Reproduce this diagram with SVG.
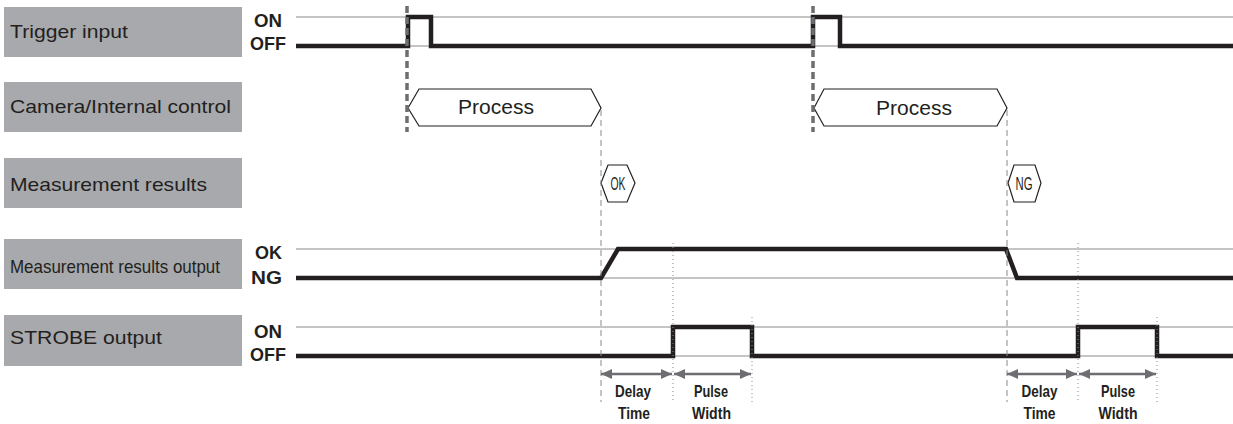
<svg xmlns="http://www.w3.org/2000/svg" width="1233" height="424" viewBox="0 0 1233 424">
<style>
.box{fill:#a7a9ac}
.lbl{font-family:"Liberation Sans",Arial,sans-serif;font-size:19px;fill:#231f20}
.lvl{font-family:"Liberation Sans",Arial,sans-serif;font-size:17.5px;font-weight:bold;fill:#231f20;text-anchor:middle}
.ref{stroke:#8a8a8a;stroke-width:1;fill:none}
.sig{stroke:#231f20;stroke-width:4.5;fill:none;stroke-linejoin:miter;stroke-linecap:butt}
.hex{fill:#fff;stroke:#231f20;stroke-width:1.2}
.proc{font-family:"Liberation Sans",Arial,sans-serif;font-size:20px;fill:#231f20;text-anchor:middle}
.res{font-family:"Liberation Sans",Arial,sans-serif;font-size:18px;fill:#231f20;text-anchor:middle}
.trig{stroke:#6d6e71;stroke-width:3.5;stroke-dasharray:7 4;fill:none}
.dash{stroke:#8a8a8a;stroke-width:1;stroke-dasharray:6 4;fill:none}
.dot{stroke:#8a8a8a;stroke-width:1;stroke-dasharray:1 3;fill:none}
.arr{stroke:#6d6e71;stroke-width:2.5;fill:none;marker-start:url(#ah);marker-end:url(#ah)}
.dim{font-family:"Liberation Sans",Arial,sans-serif;font-size:17px;font-weight:bold;fill:#231f20;text-anchor:middle}
</style>
<defs>
<marker id="ah" markerUnits="userSpaceOnUse" markerWidth="11" markerHeight="10" refX="11" refY="5" orient="auto-start-reverse">
<path d="M0,0 L11,5 L0,10 z" fill="#6d6e71"/>
</marker>
</defs>
<rect width="1233" height="424" fill="#fff"/>

<g id="trigger-input">
<rect class="box" x="4" y="7" width="238" height="50"/>
<text class="lbl" x="10" y="38" textLength="118" lengthAdjust="spacingAndGlyphs">Trigger input</text>
<text class="lvl" x="268" y="27" textLength="28" lengthAdjust="spacingAndGlyphs">ON</text>
<text class="lvl" x="268" y="50" textLength="36" lengthAdjust="spacingAndGlyphs">OFF</text>
<path class="ref" d="M296 17 H1233 M296 46 H1233"/>
<path class="sig" d="M296 46 H408 V17 H431 V46 H813 V17 H840 V46 H1233"/>
</g>

<g id="camera-internal-control">
<rect class="box" x="4" y="82" width="238" height="50"/>
<text class="lbl" x="10" y="113" textLength="221" lengthAdjust="spacingAndGlyphs">Camera/Internal control</text>
<polygon class="hex" points="408,108 419,89 591,89 601,108 591,126 419,126"/>
<text class="proc" x="496" y="114" textLength="76" lengthAdjust="spacingAndGlyphs">Process</text>
<polygon class="hex" points="814,108 824,89 997,89 1007,108 997,126 824,126"/>
<text class="proc" x="914" y="115" textLength="76" lengthAdjust="spacingAndGlyphs">Process</text>
</g>

<g id="measurement-results">
<rect class="box" x="4" y="158" width="238" height="50"/>
<text class="lbl" x="10" y="191" textLength="197" lengthAdjust="spacingAndGlyphs">Measurement results</text>
<polygon class="hex" points="601,183 608,165 627,165 635,183 627,202 608,202"/>
<text class="res" x="618" y="190" textLength="15" lengthAdjust="spacingAndGlyphs">OK</text>
<polygon class="hex" points="1008,183 1014,165 1035,165 1041,183 1035,202 1014,202"/>
<text class="res" x="1024" y="190" textLength="17" lengthAdjust="spacingAndGlyphs">NG</text>
</g>

<g id="measurement-results-output">
<rect class="box" x="4" y="239" width="238" height="50"/>
<text class="lbl" x="10" y="273" textLength="210" lengthAdjust="spacingAndGlyphs">Measurement results output</text>
<text class="lvl" x="268.5" y="259" textLength="27" lengthAdjust="spacingAndGlyphs">OK</text>
<text class="lvl" x="266.5" y="284" textLength="31" lengthAdjust="spacingAndGlyphs">NG</text>
<path class="ref" d="M296 249 H1233 M296 278 H1233"/>
<path class="sig" d="M296 278 H601 L618 249 H1006 L1017 278 H1233"/>
</g>

<g id="strobe-output">
<rect class="box" x="4" y="315" width="238" height="51"/>
<text class="lbl" x="10" y="344" textLength="152" lengthAdjust="spacingAndGlyphs">STROBE output</text>
<text class="lvl" x="268" y="338" textLength="28" lengthAdjust="spacingAndGlyphs">ON</text>
<text class="lvl" x="268" y="361" textLength="36" lengthAdjust="spacingAndGlyphs">OFF</text>
<path class="ref" d="M296 327 H1233 M296 356 H1233"/>
<path class="sig" d="M296 356 H673 V327 H752 V356 H1078 V327 H1157 V356 H1233"/>
</g>

<g id="connectors">
<path class="trig" d="M407 6 V132 M813 6 V132"/>
<path class="dash" d="M601 110 V402 M1007 110 V402"/>
<path class="dot" d="M673 243 V402 M752 317 V402 M1078 243 V402 M1157 317 V402"/>
<line class="arr" x1="601" y1="374" x2="672" y2="374"/>
<line class="arr" x1="674" y1="374" x2="751" y2="374"/>
<line class="arr" x1="1007" y1="374" x2="1077" y2="374"/>
<line class="arr" x1="1079" y1="374" x2="1156" y2="374"/>
</g>

<g id="dimension-labels">
<text class="dim" x="633" y="397" textLength="36" lengthAdjust="spacingAndGlyphs">Delay</text>
<text class="dim" x="634" y="419" textLength="32" lengthAdjust="spacingAndGlyphs">Time</text>
<text class="dim" x="711" y="397" textLength="34" lengthAdjust="spacingAndGlyphs">Pulse</text>
<text class="dim" x="711.5" y="419" textLength="39" lengthAdjust="spacingAndGlyphs">Width</text>
<text class="dim" x="1039.5" y="397" textLength="36" lengthAdjust="spacingAndGlyphs">Delay</text>
<text class="dim" x="1039.5" y="419" textLength="32" lengthAdjust="spacingAndGlyphs">Time</text>
<text class="dim" x="1118" y="397" textLength="34" lengthAdjust="spacingAndGlyphs">Pulse</text>
<text class="dim" x="1118" y="419" textLength="39" lengthAdjust="spacingAndGlyphs">Width</text>
</g>
</svg>
